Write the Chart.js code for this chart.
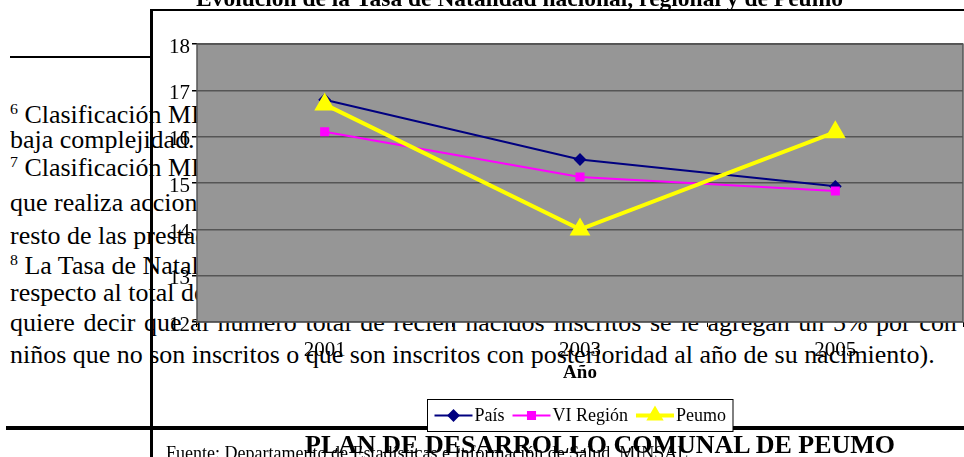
<!DOCTYPE html>
<html>
<head>
<meta charset="utf-8">
<script src="https://cdn.jsdelivr.net/npm/chart.js@4.4.0/dist/chart.umd.min.js"></script>
<style>
  body { margin: 0; width: 964px; height: 457px; overflow: hidden; position: relative; background: #fff; }
  .ln { position: absolute; left: 10px; white-space: nowrap; font-family: "Liberation Serif", serif; font-size: 24.5px; line-height: 24.5px; color: #000; transform: scaleX(1.06); transform-origin: left top; }
  .ln sup { font-size: 15px; vertical-align: 9px; line-height: 0; }
  .rule { position: absolute; background: #000; }
  #c { position: absolute; left: 76px; top: -14px; }
  .foot { position: absolute; white-space: nowrap; font-family: "Liberation Serif", serif; color: #000; }
</style>
</head>
<body>
<!-- document text behind the chart -->
<div class="ln" style="top:103px"><sup>6</sup> Clasificación MINSAL para establecimientos de atención primaria de</div>
<div class="ln" style="top:128px">baja complejidad.</div>
<div class="ln" style="top:156px"><sup>7</sup> Clasificación MINSAL para establecimientos de atención primaria</div>
<div class="ln" style="top:191px">que realiza acciones de fomento, prevención y curación, y deriva el</div>
<div class="ln" style="top:224px">resto de las prestaciones a otros niveles de atención.</div>
<div class="ln" style="top:254px"><sup>8</sup> La Tasa de Natalidad corresponde al número de nacidos vivos</div>
<div class="ln" style="top:281px">respecto al total de la población, corregida en un 5% (lo que</div>
<div class="ln" style="top:311px;word-spacing:2px">quiere decir que al número total de recién nacidos inscritos se le agregan un 5% por con</div>
<div class="ln" style="top:343px">niños que no son inscritos o que son inscritos con posterioridad al año de su nacimiento).</div>

<div class="rule" style="left:10px;top:56px;width:142px;height:2px"></div>
<div class="rule" style="left:150px;top:9px;width:814px;height:2px"></div>
<div class="rule" style="left:150px;top:9px;width:3px;height:448px"></div>
<div class="rule" style="left:6px;top:426px;width:958px;height:4px"></div>

<canvas id="c" width="888" height="471"></canvas>

<div class="foot" style="left:166px;top:443px;font-size:18px">Fuente: Departamento de Estadísticas e Información de Salud, MINSAL</div>
<div class="foot" style="left:305px;top:430px;font-size:26px;font-weight:bold">PLAN DE DESARROLLO COMUNAL DE PEUMO</div>

<script>
const years = ['2001', '2003', '2005'];
const pais = [16.80, 15.51, 14.93];
const region = [16.11, 15.13, 14.83];
const peumo = [16.70, 14.00, 16.10];
const yMin = 12;
const yMax = 18;

Chart.defaults.font.family = '"Liberation Serif", serif';
Chart.defaults.color = '#000';

// grey plot area with a dark frame
const plotArea = {
  id: 'plotArea',
  beforeDraw(chart) {
    const { ctx, chartArea: a } = chart;
    ctx.save();
    ctx.fillStyle = '#969696';
    ctx.fillRect(a.left, a.top, a.right - a.left, a.bottom - a.top);
    ctx.restore();
  },
  afterDatasetsDraw(chart) {
    const { ctx, chartArea: a } = chart;
    ctx.save();
    ctx.strokeStyle = '#555';
    ctx.lineWidth = 1.5;
    ctx.strokeRect(a.left, a.top, a.right - a.left, a.bottom - a.top);
    ctx.restore();
  }
};

// boxed legend centred under the plot, line + marker per series
const boxLegend = {
  id: 'boxLegend',
  afterDraw(chart) {
    const { ctx, chartArea: a } = chart;
    const lineLen = 38, gapText = 2, gapItem = 8, pad = 7, h = 32;
    ctx.save();
    ctx.font = '18px "Liberation Serif"';
    const items = chart.data.datasets.map(ds => ({ ds, w: ctx.measureText(ds.label).width }));
    let total = pad * 2 + gapItem * (items.length - 1);
    items.forEach(it => { total += lineLen + gapText + it.w; });
    const left = Math.round((a.left + a.right) / 2 - total / 2) + 0.5;
    const top = Math.round(a.bottom + 77) + 0.5;
    ctx.fillStyle = '#fff';
    ctx.fillRect(left, top, total, h);
    ctx.strokeStyle = '#000';
    ctx.lineWidth = 1;
    ctx.strokeRect(left, top, total, h);
    const cy = top + h / 2;
    let x = left + pad;
    items.forEach(it => {
      const ds = it.ds;
      ctx.strokeStyle = ds.borderColor;
      ctx.lineWidth = ds.borderWidth;
      ctx.beginPath();
      ctx.moveTo(x, cy);
      ctx.lineTo(x + lineLen, cy);
      ctx.stroke();
      ctx.fillStyle = ds.pointBackgroundColor;
      ctx.strokeStyle = ds.pointBorderColor;
      Chart.helpers.drawPoint(ctx, {
        pointStyle: ds.pointStyle,
        radius: ds.legendRadius,
        rotation: 0,
        borderWidth: 1
      }, x + lineLen / 2, cy);
      x += lineLen + gapText;
      ctx.fillStyle = '#000';
      ctx.textBaseline = 'middle';
      ctx.textAlign = 'left';
      ctx.fillText(ds.label, x, cy + 1);
      x += it.w + gapItem;
    });
    ctx.restore();
  }
};

new Chart(document.getElementById('c'), {
  type: 'line',
  data: {
    labels: years,
    datasets: [
      {
        label: 'País',
        data: pais,
        borderColor: '#000080',
        borderWidth: 2,
        pointStyle: 'rectRot',
        pointRadius: 5,
        legendRadius: 5,
        pointBackgroundColor: '#000080',
        pointBorderColor: '#000080',
        order: 2
      },
      {
        label: 'VI Región',
        data: region,
        borderColor: '#FF00FF',
        borderWidth: 2,
        pointStyle: 'rect',
        pointRadius: 5,
        legendRadius: 5,
        pointBackgroundColor: '#FF00FF',
        pointBorderColor: '#FF00FF',
        order: 1
      },
      {
        label: 'Peumo',
        data: peumo,
        borderColor: '#FFFF00',
        borderWidth: 4,
        pointStyle: 'triangle',
        pointRadius: 8,
        legendRadius: 6,
        pointBackgroundColor: '#FFFF00',
        pointBorderColor: '#FFFF00',
        order: 0
      }
    ]
  },
  options: {
    responsive: false,
    animation: false,
    devicePixelRatio: 1,
    layout: { autoPadding: false, padding: { left: 0, right: 1, top: 0, bottom: 69 } },
    elements: { line: { tension: 0 } },
    plugins: {
      legend: { display: false },
      tooltip: { enabled: false },
      title: {
        display: true,
        text: 'Evolución de la Tasa de Natalidad nacional, regional y de Peumo',
        color: '#000',
        font: { size: 23.5, weight: 'bold' },
        padding: { top: 0, bottom: 30 }
      }
    },
    scales: {
      x: {
        offset: true,
        grid: { display: true, offset: true, drawOnChartArea: false, tickLength: 5, color: '#000' },
        border: { display: false },
        ticks: { font: { size: 21 }, padding: 11, color: '#000', maxRotation: 0 },
        title: { display: true, text: 'Año', font: { size: 19, weight: 'bold' }, padding: { top: 4, bottom: 4 }, color: '#000' },
        afterFit(scale) { scale.height = 66; }
      },
      y: {
        min: yMin,
        max: yMax,
        ticks: { stepSize: 1, font: { size: 21 }, padding: 2, labelOffset: 3, color: '#000' },
        grid: { color: '#555', lineWidth: 1.5, tickLength: 5, tickColor: '#000' },
        border: { display: false },
        afterFit(scale) { scale.width = 121; }
      }
    }
  },
  plugins: [plotArea, boxLegend]
});
</script>
</body>
</html>
